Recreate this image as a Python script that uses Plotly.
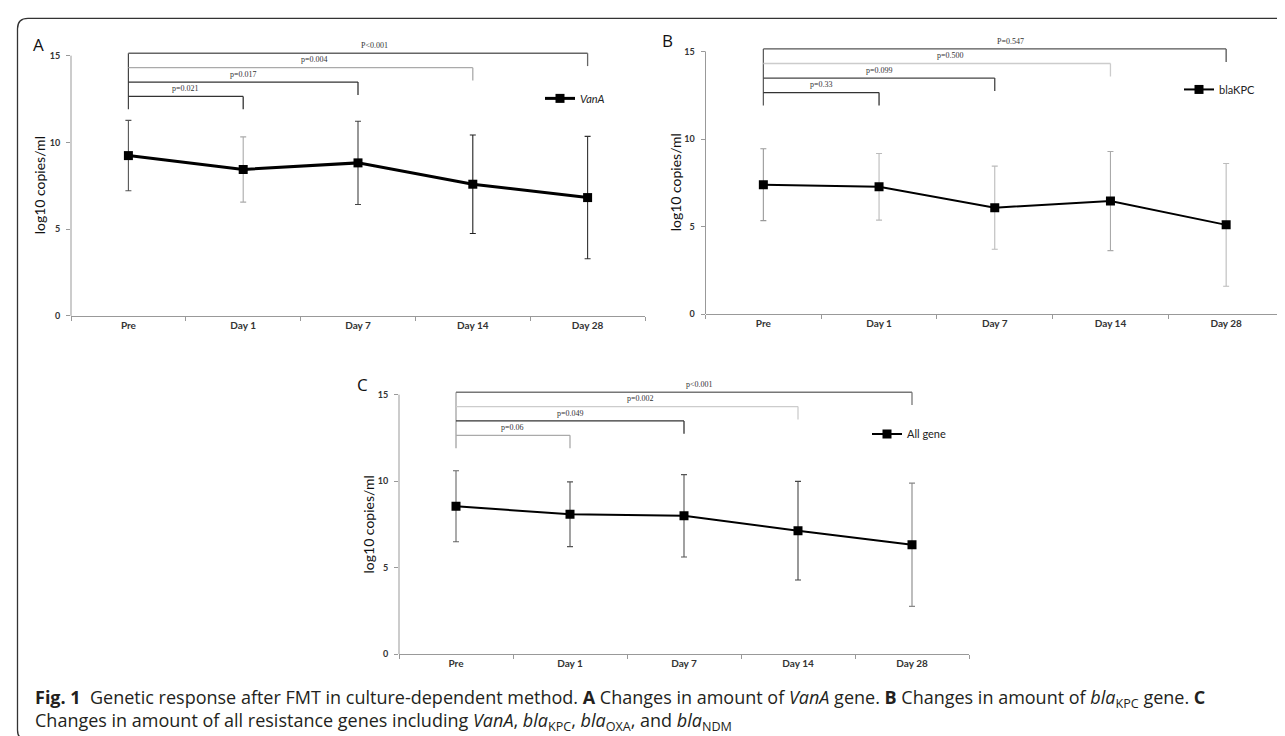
import plotly.graph_objects as go

# ---------------- data ----------------
categories = ["Pre", "Day 1", "Day 7", "Day 14", "Day 28"]

vana_mean = [9.24, 8.44, 8.82, 7.59, 6.82]
vana_sd = [2.03, 1.88, 2.40, 2.84, 3.53]

blakpc_mean = [7.39, 7.27, 6.08, 6.46, 5.10]
blakpc_sd = [2.05, 1.90, 2.37, 2.83, 3.50]

allgene_mean = [8.55, 8.09, 8.00, 7.14, 6.33]
allgene_sd = [2.05, 1.87, 2.38, 2.85, 3.56]

comparison_targets = ["Day 1", "Day 7", "Day 14", "Day 28"]
vana_p = ["p=0.021", "p=0.017", "p=0.004", "P&lt;0.001"]
blakpc_p = ["p=0.33", "p=0.099", "p=0.500", "P=0.547"]
allgene_p = ["p=0.06", "p=0.049", "p=0.002", "p&lt;0.001"]

y_ticks = [0, 5, 10, 15]
y_title = "log10 copies/ml"
series_names = ["<i>VanA</i>", "blaKPC", "All gene"]
panel_letters = ["A", "B", "C"]

caption_line1 = ("<b>Fig. 1</b>\u00a0\u00a0Genetic response after FMT in culture-dependent method. "
                 "<b>A</b> Changes in amount of <i>VanA</i> gene. <b>B</b> Changes in amount of "
                 "<i>bla</i><sub>KPC</sub> gene. <b>C</b>")
caption_line2 = ("Changes in amount of all resistance genes including <i>VanA</i>, "
                 "<i>bla</i><sub>KPC</sub>, <i>bla</i><sub>OXA</sub>, and <i>bla</i><sub>NDM</sub>")

# ---------------- style / layout ----------------
W, H = 1285, 736
YTOP = 16.3
TICK_FONT = "Liberation Sans Narrow, Lato, sans-serif"
BASE, STEP, DROP, LABEL_DY = 12.65, 0.83, 0.74, 0.45
LABEL_DX = [0.0, 0.0, 0.12, 0.14]

panels = [
    dict(mean=vana_mean, sd=vana_sd, p=vana_p, name=series_names[0], letter=panel_letters[0],
         x0=63, x1=637, yb=310, y15=48, lw=3,
         errc=["#555", "#aaa", "#444", "#222", "#333"],
         brc=["#333", "#333", "#aaa", "#666"], leftc="#444",
         letter_xy=(30, 37), title_x=31.5, leg=(532, 91)),
    dict(mean=blakpc_mean, sd=blakpc_sd, p=blakpc_p, name=series_names[1], letter=panel_letters[1],
         x0=697.5, x1=1276, yb=308.3, y15=43.7, lw=2,
         errc=["#999", "#bbb", "#bbb", "#aaa", "#bbb"],
         brc=["#333", "#444", "#ccc", "#555"], leftc="#555",
         letter_xy=(660, 33), title_x=667.5, leg=(1171, 82)),
    dict(mean=allgene_mean, sd=allgene_sd, p=allgene_p, name=series_names[2], letter=panel_letters[2],
         x0=391, x1=961, yb=650.7, y15=389.3, lw=2,
         errc=["#666", "#555", "#555", "#444", "#888"],
         brc=["#aaa", "#333", "#ccc", "#777"], leftc="#999",
         letter_xy=(354, 379), title_x=360, leg=(859, 429)),
]

fig = go.Figure()
shapes = []
annotations = []
layout = {}

for k, pnl in enumerate(panels):
    sfx = "" if k == 0 else str(k + 1)
    xa, ya = "x" + sfx, "y" + sfx
    leg = "legend" + sfx
    unit = (pnl["yb"] - pnl["y15"]) / 15.0
    top_px = pnl["yb"] - YTOP * unit

    # error bars (one trace per point so each can carry its own grey)
    for i, c in enumerate(categories):
        fig.add_trace(go.Scatter(
            x=[c], y=[pnl["mean"][i]], mode="markers",
            marker=dict(size=1, color="rgba(0,0,0,0)"),
            error_y=dict(type="data", array=[pnl["sd"][i]], color=pnl["errc"][i],
                         thickness=1.1, width=3),
            xaxis=xa, yaxis=ya, showlegend=False, hoverinfo="skip"))
    # main series
    fig.add_trace(go.Scatter(
        x=categories, y=pnl["mean"], mode="lines+markers", name=pnl["name"],
        line=dict(color="black", width=pnl["lw"]),
        marker=dict(symbol="square", size=9, color="black"),
        xaxis=xa, yaxis=ya, legend=leg, showlegend=True))

    layout["xaxis" + sfx] = dict(
        domain=[pnl["x0"] / W, pnl["x1"] / W], anchor=ya, type="category",
        range=[-0.5, 4.5], showline=True, linecolor="#999", linewidth=1,
        ticks="outside", tickson="boundaries", ticklen=4, tickcolor="#999",
        tickfont=dict(family=TICK_FONT, size=10, color="#333", weight="bold"),
        showgrid=False, zeroline=False, fixedrange=True)
    layout["yaxis" + sfx] = dict(
        domain=[1 - pnl["yb"] / H, 1 - top_px / H], anchor=xa,
        range=[0, YTOP], tickvals=y_ticks, showline=False,
        ticks="outside", ticklen=4, tickcolor="#999", ticklabelstandoff=4,
        tickfont=dict(family=TICK_FONT, size=9, color="#333", weight="bold"),
        showgrid=False, zeroline=False, fixedrange=True)
    layout[leg] = dict(
        x=pnl["leg"][0] / W, y=1 - pnl["leg"][1] / H, xanchor="left", yanchor="middle",
        bgcolor="rgba(0,0,0,0)", borderwidth=0, itemwidth=30,
        font=dict(family="Lato, sans-serif", size=11, color="#222"))

    # y-axis line from 0 to 15
    shapes.append(dict(type="line", xref="paper", yref=ya,
                       x0=pnl["x0"] / W, x1=pnl["x0"] / W, y0=0, y1=y_ticks[-1],
                       line=dict(color="#999", width=1)))
    # comparison brackets
    shapes.append(dict(type="line", xref=xa, yref=ya, x0=0, x1=0,
                       y0=BASE - DROP, y1=BASE + STEP * (len(comparison_targets) - 1),
                       line=dict(color=pnl["leftc"], width=1.2)))
    for j, tgt in enumerate(comparison_targets):
        ti = categories.index(tgt)
        lvl = BASE + j * STEP
        shapes.append(dict(type="line", xref=xa, yref=ya, x0=0, x1=ti, y0=lvl, y1=lvl,
                           line=dict(color=pnl["brc"][j], width=1.3)))
        shapes.append(dict(type="line", xref=xa, yref=ya, x0=ti, x1=ti, y0=lvl, y1=lvl - DROP,
                           line=dict(color=pnl["brc"][j], width=1.3)))
        annotations.append(dict(xref=xa, yref=ya, x=ti / 2 + LABEL_DX[j], y=lvl + LABEL_DY,
                                text=pnl["p"][j], showarrow=False,
                                font=dict(family="Liberation Serif, serif", size=8, color="#333")))

    # panel letter and y title
    annotations.append(dict(xref="paper", yref="paper", x=pnl["letter_xy"][0] / W,
                            y=1 - pnl["letter_xy"][1] / H, text=pnl["letter"], showarrow=False,
                            xanchor="center", yanchor="middle",
                            font=dict(family="Open Sans, sans-serif", size=17, color="#111")))
    annotations.append(dict(xref="paper", yref="paper", x=pnl["title_x"] / W,
                            y=1 - (pnl["yb"] + pnl["y15"]) / 2 / H, text=y_title,
                            textangle=-90, showarrow=False, xanchor="center", yanchor="middle",
                            font=dict(family="Lato, sans-serif", size=14, color="#111")))

# caption (one block, two lines)
CAP_FONT = dict(family="Open Sans, sans-serif", size=18, color="#231f20")
annotations.append(dict(xref="paper", yref="paper", x=25 / W, y=1 - 707 / H, xanchor="left",
                        yanchor="middle", align="left",
                        text=caption_line1 + "<br>" + caption_line2,
                        showarrow=False, font=CAP_FONT))

# rounded frame (top and left edges)
def P(px, py):
    return f"{px / W:.5f},{1 - py / H:.5f}"

frame = (f"M {P(1295, 10.5)} L {P(20, 10.5)} Q {P(9.5, 10.5)} {P(9.5, 21)} "
         f"L {P(9.5, 727)} Q {P(9.5, 737.5)} {P(20, 737.5)} L {P(1295, 737.5)}")
shapes.append(dict(type="path", xref="paper", yref="paper", path=frame,
                   line=dict(color="#333", width=1.3)))

fig.update_layout(
    width=W, height=H, margin=dict(l=0, r=0, t=0, b=0),
    paper_bgcolor="white", plot_bgcolor="white",
    shapes=shapes, annotations=annotations, hovermode=False,
    **layout)

fig.write_html("out.html")
